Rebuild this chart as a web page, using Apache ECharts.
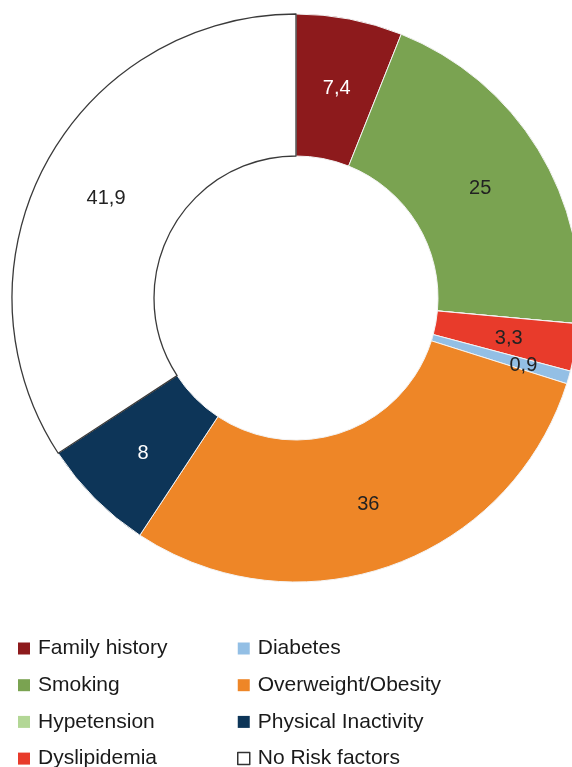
<!DOCTYPE html>
<html>
<head>
<meta charset="utf-8">
<script src="https://cdn.jsdelivr.net/npm/echarts@6/dist/echarts.min.js"></script>
<style>
  html, body { margin: 0; padding: 0; background: #ffffff; }
  #chart { width: 572px; height: 767px; }
</style>
</head>
<body>
<div id="chart"></div>
<script>
// Risk factor shares (%), clockwise from 12 o'clock
const categories = [
  'Family history', 'Smoking', 'Hypetension', 'Dyslipidemia',
  'Diabetes', 'Overweight/Obesity', 'Physical Inactivity', 'No Risk factors'
];
const values = [7.4, 25, 0, 3.3, 0.9, 36, 8, 41.9];
const colors = [
  '#8d1a1c', '#7aa351', '#b3d796', '#e83b2b',
  '#93bfe5', '#ee8627', '#0d3558', '#ffffff'
];
const labelColors = [
  '#ffffff', '#222222', '#222222', '#222222',
  '#222222', '#222222', '#ffffff', '#222222'
];
const legendLeftColumn = categories.slice(0, 4);
const legendRightColumn = categories.slice(4);

const FONT = '"Liberation Sans", Arial, Helvetica, sans-serif';

const pieData = categories.map((name, i) => {
  const item = {
    name: name,
    value: values[i],
    itemStyle: { color: colors[i] },
    label: { color: labelColors[i] }
  };
  if (name === 'No Risk factors') {
    item.itemStyle.borderColor = '#3a3a3a';
    item.itemStyle.borderWidth = 1.3;
  }
  if (values[i] === 0) {
    item.label.show = false;
  }
  if (name === 'Diabetes') {
    // thin slice: push its label outward so it stays readable
    item.label.offset = [20, 7];
  }
  return item;
});

function legendItems(names) {
  return names.map(name => {
    const i = categories.indexOf(name);
    const d = { name: name, itemStyle: { color: colors[i], borderWidth: 0 } };
    if (name === 'No Risk factors') {
      d.itemStyle = { color: '#ffffff', borderColor: '#333333', borderWidth: 1.5 };
    }
    return d;
  });
}

const legendCommon = {
  orient: 'vertical',
  top: 633,
  height: 134,
  icon: 'rect',
  itemWidth: 12,
  itemHeight: 12,
  itemGap: 15.7,
  selectedMode: false,
  textStyle: {
    fontFamily: FONT,
    fontSize: 21,
    lineHeight: 21,
    color: '#1a1a1a',
    padding: [0, 0, 0, 3]
  }
};

const chart = echarts.init(document.getElementById('chart'), null, { renderer: 'canvas' });
chart.setOption({
  animation: false,
  backgroundColor: '#ffffff',
  legend: [
    Object.assign({}, legendCommon, { left: 13, data: legendItems(legendLeftColumn) }),
    Object.assign({}, legendCommon, { left: 232, data: legendItems(legendRightColumn) })
  ],
  series: [{
    type: 'pie',
    center: [296, 298],
    radius: [142, 284],
    startAngle: 90,
    clockwise: true,
    avoidLabelOverlap: false,
    itemStyle: { borderColor: '#f4f4f4', borderWidth: 1 },
    label: {
      show: true,
      position: 'inside',
      offset: [0, 3],
      fontFamily: FONT,
      fontSize: 20,
      formatter: p => String(p.value).replace('.', ',')
    },
    labelLine: { show: false },
    emphasis: { disabled: true },
    data: pieData
  }]
});
</script>
</body>
</html>
